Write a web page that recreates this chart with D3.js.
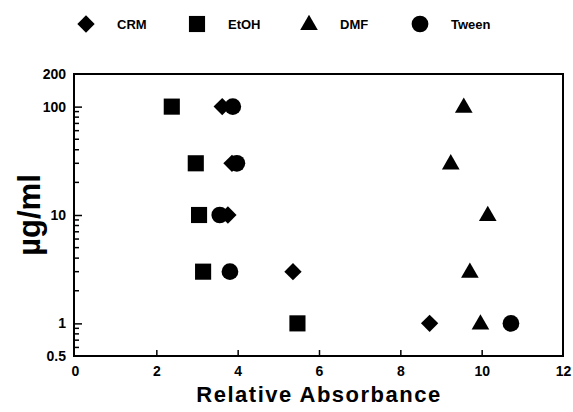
<!DOCTYPE html>
<html>
<head>
<meta charset="utf-8">
<script src="https://cdn.jsdelivr.net/npm/d3@7"></script>
<style>
  body { margin: 0; background: #fff; }
  svg text { font-family: "Liberation Sans", Arial, sans-serif; font-weight: bold; fill: #000; }
</style>
</head>
<body>
<div id="chart"></div>
<script>
// concentrations (ug/ml) and relative absorbance per solvent
var concentrations = [100, 30, 10, 3, 1];
var crm   = [3.62, 3.86, 3.76, 5.36, 8.72];
var etoh  = [2.38, 2.97, 3.05, 3.15, 5.47];
var dmf   = [9.56, 9.24, 10.15, 9.71, 9.97];
var tween = [3.88, 3.98, 3.56, 3.81, 10.72];

var seriesNames = ["CRM", "EtOH", "DMF", "Tween"];
var seriesValues = [crm, etoh, dmf, tween];

var xTicks = [0, 2, 4, 6, 8, 10, 12];
var yTicks = [0.5, 1, 10, 100, 200];

var w = 573, h = 412;
var margin = {top: 74, right: 10, bottom: 56, left: 75};

var svg = d3.select("#chart").append("svg")
    .attr("width", w)
    .attr("height", h);

var x = d3.scaleLinear().domain([0, 12]).range([margin.left, w - margin.right]);
var y = d3.scaleLog().domain([0.5, 200]).range([h - margin.bottom, margin.top]);

// marker shapes: diamond is a square turned 45 degrees
var markers = [
    {sym: d3.symbol().type(d3.symbolSquare).size(150)(), rot: 45, dy: 0},
    {sym: d3.symbol().type(d3.symbolSquare).size(260)(), rot: 0, dy: 0},
    {sym: d3.symbol().type(d3.symbolTriangle).size(135)(), rot: 0, dy: 1},
    {sym: d3.symbol().type(d3.symbolCircle).size(220)(), rot: 0, dy: 0}
];

// frame
svg.append("rect")
    .attr("x", x(0) - 1)
    .attr("y", y(200))
    .attr("width", x(12) - x(0) + 1)
    .attr("height", y(0.5) - y(200))
    .attr("fill", "none")
    .attr("stroke", "#000")
    .attr("stroke-width", 2);

// x axis: inward ticks
var xAxis = d3.axisBottom(x).tickValues(xTicks).tickSize(-6).tickPadding(10).tickFormat(d3.format("d"));
var gx = svg.append("g")
    .attr("transform", "translate(0," + y(0.5) + ")")
    .call(xAxis);
gx.select(".domain").remove();
gx.selectAll("text").style("font-size", "14px");
gx.selectAll("line").attr("stroke-width", 1.5)
    .filter(function(d) { return d === 0 || d === 12; }).remove();

// y axis major ticks
var yAxis = d3.axisLeft(y).tickValues(yTicks).tickSize(-7).tickPadding(9)
    .tickFormat(function(d) { return d; });
var gy = svg.append("g")
    .attr("transform", "translate(" + x(0) + ",0)")
    .call(yAxis);
gy.select(".domain").remove();
gy.selectAll("text").style("font-size", "14px");
gy.selectAll("line").attr("stroke-width", 1.5)
    .filter(function(d) { return d === 0.5 || d === 200; }).remove();

// y minor ticks
var minor = [];
[0.1, 1, 10].forEach(function(dec) {
    for (var k = 2; k <= 9; k++) {
        var v = k * dec;
        if (v > 0.5) minor.push(v);
    }
});
svg.append("g").selectAll("line")
    .data(minor)
    .enter()
    .append("line")
    .attr("x1", x(0))
    .attr("x2", x(0) + 4)
    .attr("y1", function(d) { return y(d); })
    .attr("y2", function(d) { return y(d); })
    .attr("stroke", "#000")
    .attr("stroke-width", 1.5);

// points
seriesValues.forEach(function(vals, si) {
    var m = markers[si];
    svg.append("g").selectAll("path")
        .data(vals)
        .enter()
        .append("path")
        .attr("d", m.sym)
        .attr("transform", function(d, i) {
            return "translate(" + x(d) + "," + (y(concentrations[i]) + m.dy) + ") rotate(" + m.rot + ")";
        })
        .attr("fill", "#000");
});

// legend
var legendX = [86, 197, 309, 420];
var legend = svg.append("g").selectAll("g")
    .data(seriesNames)
    .enter()
    .append("g")
    .attr("transform", function(d, i) { return "translate(" + legendX[i] + ",24)"; });
legend.append("path")
    .attr("d", function(d, i) { return markers[i].sym; })
    .attr("transform", function(d, i) { return "translate(0," + markers[i].dy + ") rotate(" + markers[i].rot + ")"; })
    .attr("fill", "#000");
legend.append("text")
    .attr("x", 31)
    .attr("y", 5)
    .style("font-size", "13px")
    .text(function(d) { return d; });

// axis titles
svg.append("text")
    .attr("x", (x(0) + x(12)) / 2)
    .attr("y", 402)
    .attr("text-anchor", "middle")
    .style("font-size", "22px")
    .style("letter-spacing", "1.5px")
    .text("Relative Absorbance");

svg.append("text")
    .attr("transform", "translate(40," + ((y(0.5) + y(200)) / 2) + ") rotate(-90)")
    .attr("text-anchor", "middle")
    .style("font-size", "31px")
    .text("µg/ml");
</script>
</body>
</html>
